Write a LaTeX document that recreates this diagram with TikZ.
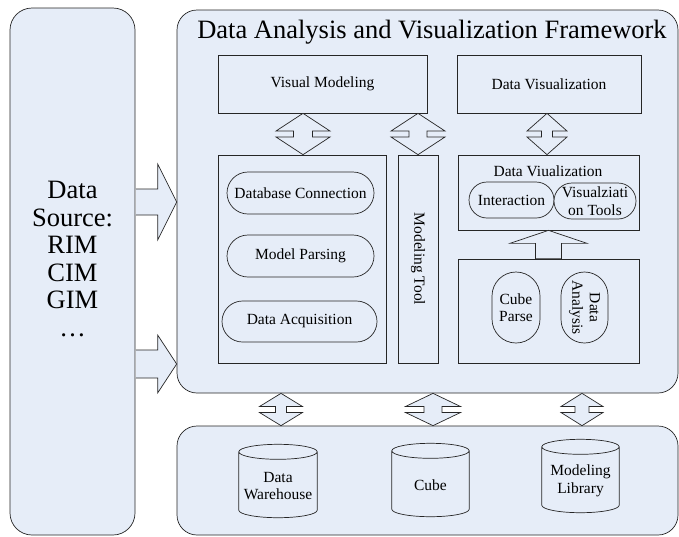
\documentclass[tikz,border=0pt]{standalone}
\usepackage{fontspec}
\setmainfont{Liberation Serif}
\usetikzlibrary{calc}
\definecolor{paleblue}{RGB}{230,237,248}
\newcommand{\boxfont}{\fontsize{15.5}{17.5}\selectfont}
\newcommand{\bigfont}{\fontsize{26.5}{27.5}\selectfont}
% up/down double arrow between two anchors
\newcommand{\updown}[5]{%
  \draw[fillblue] let \p1=(#2 -| #1,0), \p2=(#3 -| #1,0), \p3=($(\p1)!.5!(\p2)$) in
    (\p1) -- (\x1+#4pt,\y3+3pt) -- (\x1+#5pt,\y3+3pt) -- (\x1+#5pt,\y3-3pt) -- (\x1+#4pt,\y3-3pt)
    -- (\p2) -- (\x1-#4pt,\y3-3pt) -- (\x1-#5pt,\y3-3pt) -- (\x1-#5pt,\y3+3pt) -- (\x1-#4pt,\y3+3pt) -- cycle;}
% block arrow from the source box into the framework
\newcommand{\feed}[3]{%
  \draw[fillblue] let \p1=(ds.east |- 0,#1), \p2=(fw.west |- 0,#1) in
    (\x1+0.4pt,\y1+#3pt) -- (\x2-19pt,\y1+#3pt) -- (\x2-19pt,\y1+#2pt) -- (\p2)
    -- (\x2-19pt,\y1-#2pt) -- (\x2-19pt,\y1-#3pt) -- (\x1+0.4pt,\y1-#3pt);}
% database drum round a node, then its text
\newcommand{\can}[2]{%
  \draw[fillblue] let \p1=(#1.north west), \p2=(#1.south east), \n1={(\x2-\x1)/2} in
    (\x1,\y1+10pt) -- (\x1,\y2) arc[start angle=180,end angle=360,x radius=\n1,y radius=7.5pt]
    -- (\x2,\y1+10pt) arc[start angle=0,end angle=180,x radius=\n1,y radius=7.5pt] -- cycle
    (\x1,\y1+10pt) arc[start angle=180,end angle=360,x radius=\n1,y radius=7.5pt];
  \node[align=center,font=\boxfont] (#1-t) at (#1) {#2};}
\begin{document}
\begin{tikzpicture}[x=1pt,y=-1pt,
    fillblue/.style={draw=black!85,fill=paleblue,line width=0.7pt},
    box/.style={fillblue,inner sep=0pt,align=center,font=\boxfont},
    pill/.style={box,rounded corners=#1}]
  \useasboundingbox (0,0) rectangle (679,536);
  % outer frames
  \node[fillblue,rounded corners=22,minimum width=125,minimum height=527] (ds) at (72.5,271.5) {};
  \node[align=center,font=\bigfont] (src) at (72.5,259) {Data\\Source:\\RIM\\CIM\\GIM\\\dots};
  \node[fillblue,rounded corners=20,minimum width=501,minimum height=383] (fw) at (427.5,201.5) {};
  \node[font=\bigfont,anchor=base] (title) at (432,38) {Data Analysis and Visualization Framework};
  \node[fillblue,rounded corners=20,minimum width=501,minimum height=109] (bb) at (427.5,480.5) {};
  \feed{202}{38}{13}
  \feed{364}{29}{14}
  % framework contents
  \node[box,minimum width=209,minimum height=58] (vm) at (322.5,84) {Visual Modeling};
  \node[box,minimum width=184,minimum height=58] (dv) at (549,84) {Data Visualization};
  \node[box,minimum width=168,minimum height=208] (lm) at (302,259) {};
  \node[box,rotate=-90,minimum width=208,minimum height=40] (mt) at (418,259) {Modeling Tool};
  \node[pill=21,minimum width=147,minimum height=42] (dbc) at (300.5,193) {Database Connection};
  \node[pill=21,minimum width=147,minimum height=42] (mp) at (300.5,256) {Model Parsing};
  \node[pill=20.5,minimum width=155,minimum height=41] (acq) at (299.5,321.5) {Data Acquisition};
  \node[box,minimum width=181,minimum height=75] (dvi) at (548.5,192.5) {};
  \node[font=\boxfont] (dvit) at (548,171) {Data Viualization};
  \node[pill=18,minimum width=85,minimum height=36] (ia) at (511.5,200) {Interaction};
  \node[pill=18,minimum width=82,minimum height=36] (vt) at (595,201) {Visualziati\\on Tools};
  \node[box,minimum width=181,minimum height=104] (ca) at (548.5,311) {};
  \node[pill=24,minimum width=48,minimum height=71] (cp) at (516,307.5) {Cube\\Parse};
  \node[pill=23.5,rotate=-90,minimum width=71,minimum height=47] (an) at (584.5,307.5) {Data\\Analysis};
  \draw[fillblue] let \p1=(dvi.south), \p2=(ca.north) in (\p1) -- (\x1+38.5pt,\y1-13pt) -- (\x1+13pt,\y1-13pt)
    -- (\x1+13pt,\y2) -- (\x1-13pt,\y2) -- (\x1-13pt,\y1-13pt) -- (\x1-38.5pt,\y1-13pt) -- cycle;
  \updown{303}{vm.south}{lm.north}{27}{9.5}
  \updown{418}{vm.south}{mt.west}{27}{9}
  \updown{547}{dv.south}{dvi.north}{20}{5.5}
  % storage
  \node[inner sep=0pt,minimum width=78,minimum height=48] (dw) at (278,486) {};
  \node[inner sep=0pt,minimum width=77,minimum height=48] (cu) at (430.5,485) {};
  \node[inner sep=0pt,minimum width=77,minimum height=48] (ml) at (580.5,481) {};
  \can{dw}{Data\\Warehouse}
  \can{cu}{Cube}
  \can{ml}{Modeling\\Library}
  \updown{281}{fw.south}{bb.north}{21.5}{5.5}
  \updown{433}{fw.south}{bb.north}{27.5}{9}
  \updown{582}{fw.south}{bb.north}{21}{7}
\end{tikzpicture}
\end{document}
